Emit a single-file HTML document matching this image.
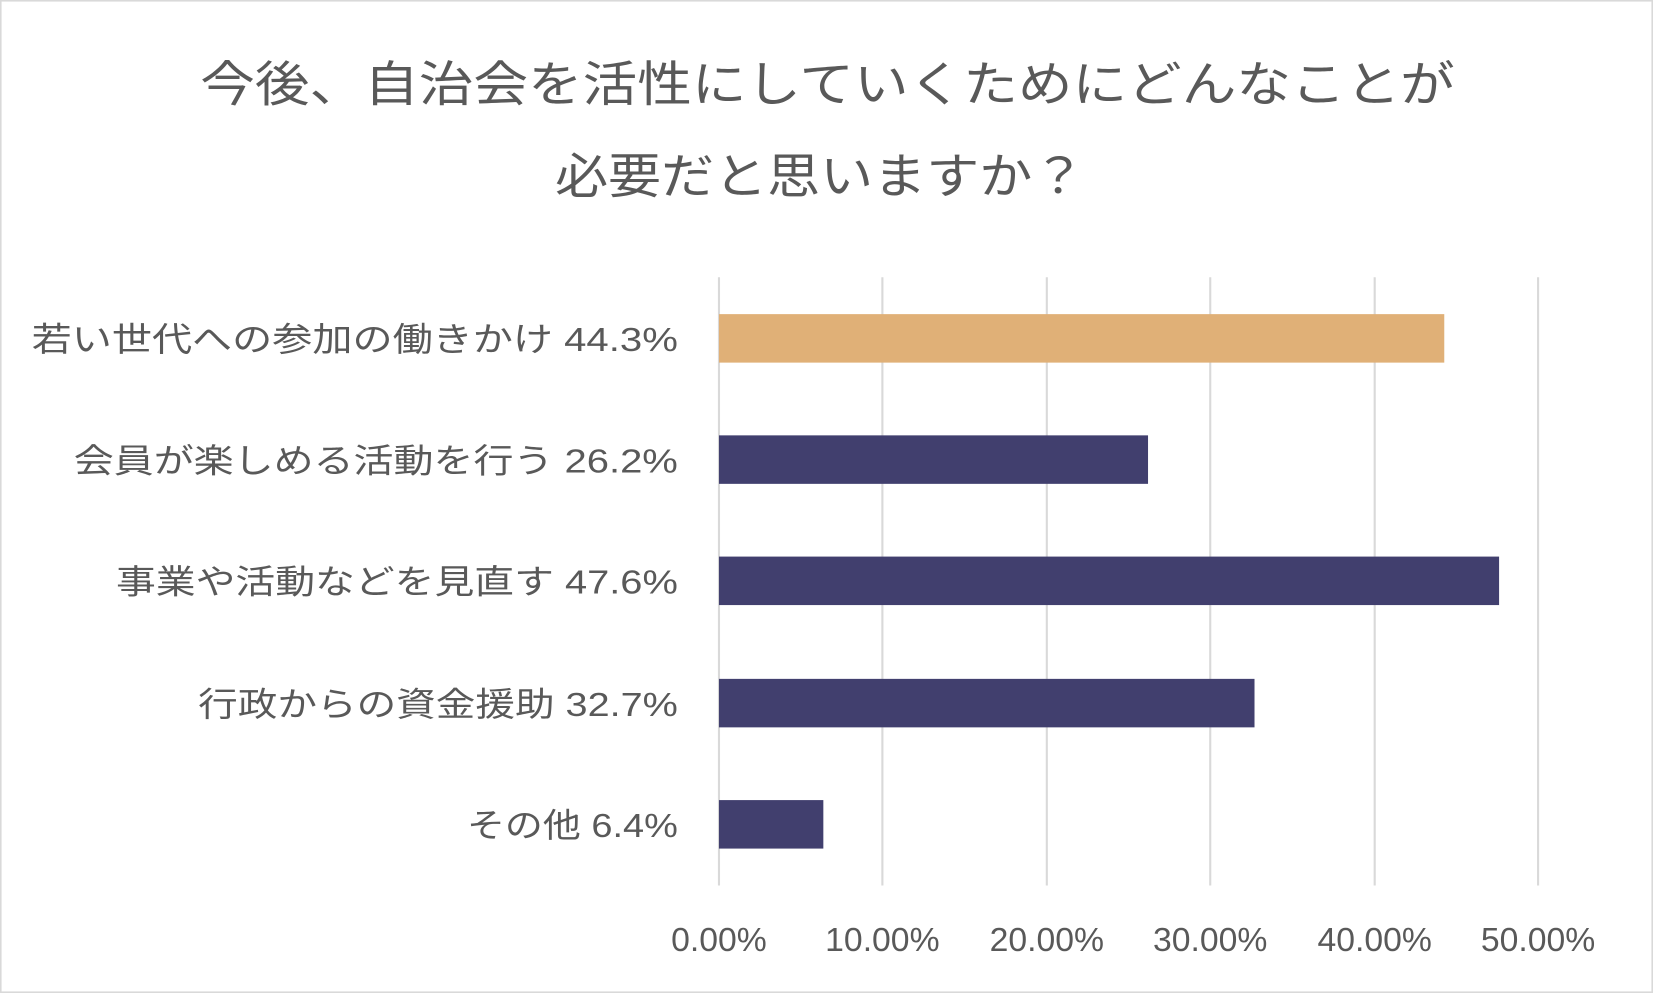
<!DOCTYPE html>
<html><head><meta charset="utf-8"><style>html,body{margin:0;padding:0;background:#fff}</style></head>
<body>
<svg width="1653" height="993" viewBox="0 0 1568 942" preserveAspectRatio="none" xmlns="http://www.w3.org/2000/svg" font-family="'Liberation Sans','Noto Sans CJK JP',sans-serif">
<rect x="0.5" y="0.5" width="1567" height="941" fill="#fff" stroke="#d9d9d9" stroke-width="2"/>
<g fill="#595959" font-size="46" text-anchor="middle">
<text x="785" y="96" textLength="1190" lengthAdjust="spacingAndGlyphs">今後、自治会を活性にしていくためにどんなことが</text>
<text x="778" y="183" textLength="503" lengthAdjust="spacingAndGlyphs">必要だと思いますか？</text>
</g>
<g stroke="#d9d9d9" stroke-width="2">
<line x1="682" y1="263" x2="682" y2="840"/>
<line x1="837" y1="263" x2="837" y2="840"/>
<line x1="993" y1="263" x2="993" y2="840"/>
<line x1="1148" y1="263" x2="1148" y2="840"/>
<line x1="1304" y1="263" x2="1304" y2="840"/>
<line x1="1459" y1="263" x2="1459" y2="840"/>
</g>
<rect x="682" y="298" width="688" height="46" fill="#E0B077"/>
<rect x="682" y="413" width="407" height="46" fill="#413F6E"/>
<rect x="682" y="528" width="740" height="46" fill="#413F6E"/>
<rect x="682" y="644" width="508" height="46" fill="#413F6E"/>
<rect x="682" y="759" width="99" height="46" fill="#413F6E"/>
<g fill="#595959" font-size="32">
<text x="30" y="333" textLength="613" lengthAdjust="spacingAndGlyphs">若い世代への参加の働きかけ 44.3%</text>
<text x="70" y="448" textLength="573" lengthAdjust="spacingAndGlyphs">会員が楽しめる活動を行う 26.2%</text>
<text x="110" y="563" textLength="533" lengthAdjust="spacingAndGlyphs">事業や活動などを見直す 47.6%</text>
<text x="188" y="679" textLength="455" lengthAdjust="spacingAndGlyphs">行政からの資金援助 32.7%</text>
<text x="443" y="794" textLength="200" lengthAdjust="spacingAndGlyphs">その他 6.4%</text>
</g>
<g fill="#595959" font-size="32" text-anchor="middle">
<text x="682" y="902">0.00%</text>
<text x="837" y="902">10.00%</text>
<text x="993" y="902">20.00%</text>
<text x="1148" y="902">30.00%</text>
<text x="1304" y="902">40.00%</text>
<text x="1459" y="902">50.00%</text>
</g>
</svg>
</body></html>
